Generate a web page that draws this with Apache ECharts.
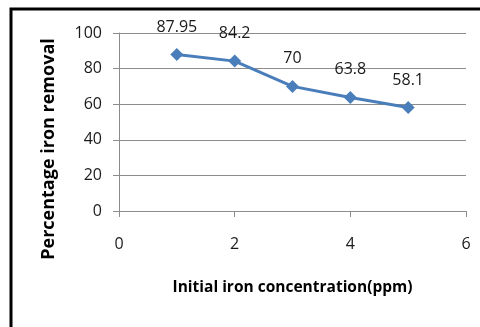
<!DOCTYPE html>
<html>
<head>
<meta charset="utf-8">
<script src="https://cdn.jsdelivr.net/npm/echarts@6/dist/echarts.min.js"></script>
<style>
  html, body { margin: 0; padding: 0; background: #ffffff; }
  #chart { width: 480px; height: 327px; }
</style>
</head>
<body>
<div id="chart"></div>
<script>
// Initial iron concentration (ppm) and percentage removal
const concentrations = [1, 2, 3, 4, 5];
const removal = [87.95, 84.2, 70, 63.8, 58.1];
const valueLabels = ['87.95', '84.2', '70', '63.8', '58.1'];

const chart = echarts.init(document.getElementById('chart'));
const textFont = 'Open Sans';

chart.setOption({
  animation: false,
  backgroundColor: '#ffffff',
  graphic: [{
    type: 'rect',
    shape: { x: 11, y: 9, width: 490, height: 340 },
    style: { fill: 'none', stroke: '#000000', lineWidth: 3 },
    silent: true
  }],
  grid: { left: 119, right: 14, top: 33, bottom: 116 },
  xAxis: {
    type: 'value',
    min: 0, max: 6, interval: 2,
    name: 'Initial iron concentration(ppm)',
    nameLocation: 'middle',
    nameGap: 69,
    nameTextStyle: { fontFamily: textFont, fontWeight: 'bold', fontSize: 15.5, color: '#000' },
    axisLine: { lineStyle: { color: '#8c8c8c', width: 1 } },
    axisTick: { show: true, length: 6, lineStyle: { color: '#8c8c8c' } },
    axisLabel: { margin: 25, fontFamily: textFont, fontSize: 16, color: '#1a1a1a' },
    splitLine: { show: false }
  },
  yAxis: {
    type: 'value',
    min: 0, max: 100, interval: 20,
    name: 'Percentage iron removal',
    nameLocation: 'middle',
    nameGap: 61,
    // title sits lower than the axis midpoint
    nameTextStyle: { fontFamily: textFont, fontWeight: 'bold', fontSize: 18, color: '#000', padding: [0, 54, 0, 0] },
    axisLine: { show: true, lineStyle: { color: '#8c8c8c', width: 1 } },
    axisTick: { show: true, length: 6, lineStyle: { color: '#8c8c8c' } },
    axisLabel: { margin: 17, fontFamily: textFont, fontSize: 16, color: '#1a1a1a' },
    splitLine: { show: true, lineStyle: { color: '#8c8c8c', width: 1 } }
  },
  series: [{
    type: 'line',
    data: concentrations.map((c, i) => [c, removal[i]]),
    symbol: 'diamond',
    symbolSize: 13,
    lineStyle: { color: '#4a7ebb', width: 3 },
    itemStyle: { color: '#4a7ebb' },
    label: {
      show: true,
      position: 'top',
      distance: 13,
      fontFamily: textFont,
      fontSize: 16,
      color: '#1a1a1a',
      formatter: p => valueLabels[p.dataIndex]
    }
  }]
});
</script>
</body>
</html>
